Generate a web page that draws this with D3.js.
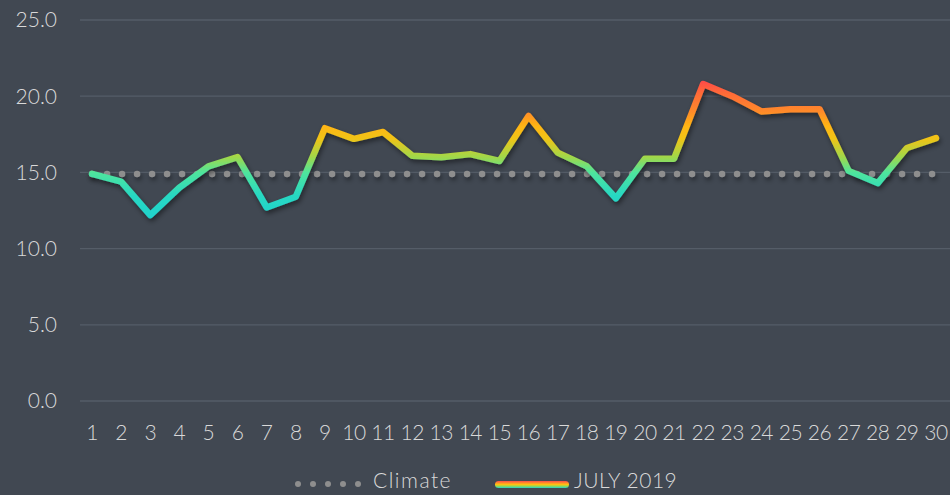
<!DOCTYPE html>
<html>
<head>
<meta charset="utf-8">
<script src="https://cdn.jsdelivr.net/npm/d3@7"></script>
<style>
  html, body { margin: 0; padding: 0; background: #414852; }
  svg { display: block; font-family: "Century Gothic", Lato, "DejaVu Sans", sans-serif; font-weight: 300; }
</style>
</head>
<body>
<div id="chart"></div>
<script>
'use strict';

// chart data
var days = d3.range(1, 31).map(String);
var july2019 = [14.9, 14.4, 12.2, 14.0, 15.4, 16.0, 12.7, 13.4, 17.9, 17.2,
                17.65, 16.1, 16.0, 16.2, 15.75, 18.7, 16.3, 15.4, 13.3, 15.9,
                15.9, 20.8, 20.0, 19.0, 19.15, 19.15, 15.1, 14.3, 16.6, 17.25];
var climate = days.map(function() { return 14.9; });
var yTicks = [0, 5, 10, 15, 20, 25];
var seriesNames = ['Climate', 'JULY 2019'];

var width = 950, height = 495;
var margin = {top: 20, right: 0, bottom: 94, left: 77.5};

var svg = d3.select('#chart').append('svg')
  .attr('width', width)
  .attr('height', height);

svg.append('rect').attr('width', width).attr('height', height).attr('fill', '#414852');

var x = d3.scaleBand()
  .domain(days)
  .range([margin.left, width + 0.5]);

var y = d3.scaleLinear()
  .domain([0, 25])
  .range([height - margin.bottom, margin.top]);

var defs = svg.append('defs');

// value-based colour gradient for the line
var grad = defs.append('linearGradient')
  .attr('id', 'tempGrad')
  .attr('gradientUnits', 'userSpaceOnUse')
  .attr('x1', 0).attr('x2', 0)
  .attr('y1', y(12)).attr('y2', y(21));
var stops = [
  [12, '#1fd2cc'],
  [13.5, '#28d8c2'],
  [15, '#4fe59c'],
  [16, '#a0d84a'],
  [17.2, '#f0c418'],
  [18, '#ffb612'],
  [19, '#ff8a2a'],
  [20.2, '#ff6a38'],
  [21, '#ff4a48']
];
stops.forEach(function(s) {
  grad.append('stop')
    .attr('offset', (s[0] - 12) / 9)
    .attr('stop-color', s[1]);
});

// shadow in user space so the flat dotted line keeps a visible region
var shadow = defs.append('filter').attr('id', 'shadow')
  .attr('filterUnits', 'userSpaceOnUse')
  .attr('x', 0).attr('y', 0).attr('width', width).attr('height', height);
shadow.append('feDropShadow')
  .attr('dx', 1.5).attr('dy', 3).attr('stdDeviation', 2.5)
  .attr('flood-color', '#000').attr('flood-opacity', 0.45);

// gridlines
svg.append('g')
  .selectAll('line')
  .data(yTicks)
  .enter()
  .append('line')
  .attr('x1', 80).attr('x2', width)
  .attr('y1', function(d) { return y(d); })
  .attr('y2', function(d) { return y(d); })
  .attr('stroke', '#555d68')
  .attr('stroke-width', 1.3);

// y labels
svg.append('g')
  .selectAll('text')
  .data(yTicks)
  .enter()
  .append('text')
  .attr('x', 57)
  .attr('y', function(d) { return y(d); })
  .attr('dy', '0.35em')
  .attr('text-anchor', 'end')
  .attr('fill', '#d9d9d9')
  .style('font-size', '21px')
  .text(function(d) { return d.toFixed(1); });

// x labels
svg.append('g')
  .selectAll('text')
  .data(days)
  .enter()
  .append('text')
  .attr('x', function(d) { return x(d) + x.bandwidth() / 2; })
  .attr('y', 440)
  .attr('text-anchor', 'middle')
  .attr('fill', '#d9d9d9')
  .style('font-size', '21px')
  .style('letter-spacing', '-0.5px')
  .text(function(d) { return d; });

// climate dotted line
var cx = function(d, i) { return x(days[i]) + x.bandwidth() / 2; };
var climateLine = d3.line()
  .x(cx)
  .y(function(d) { return y(d); });

svg.append('path')
  .datum(climate)
  .attr('d', climateLine)
  .attr('fill', 'none')
  .attr('stroke', '#8e8e8e')
  .attr('stroke-width', 6.5)
  .attr('stroke-linecap', 'round')
  .attr('stroke-dasharray', '0 15')
  .attr('filter', 'url(#shadow)');

// july line
var julyLine = d3.line()
  .x(cx)
  .y(function(d) { return y(d); });

svg.append('path')
  .datum(july2019)
  .attr('d', julyLine)
  .attr('fill', 'none')
  .attr('stroke', 'url(#tempGrad)')
  .attr('stroke-width', 6.5)
  .attr('stroke-linejoin', 'round')
  .attr('stroke-linecap', 'round')
  .attr('filter', 'url(#shadow)');

// legend
var legendY = 481;
var legend = svg.append('g');
legend.selectAll('circle')
  .data(d3.range(5))
  .enter()
  .append('circle')
  .attr('cx', function(d) { return 298 + d * 15; })
  .attr('cy', legendY + 3)
  .attr('r', 3)
  .attr('fill', '#8e8e8e');
legend.append('text')
  .attr('x', 373).attr('y', legendY).attr('dy', '0.35em')
  .attr('fill', '#d9d9d9')
  .style('font-size', '21px')
  .style('letter-spacing', '1.5px')
  .text(seriesNames[0]);

var legGrad = defs.append('linearGradient')
  .attr('id', 'legGrad')
  .attr('x1', 0).attr('x2', 0).attr('y1', 0).attr('y2', 1);
[['#ff4a48', 0], ['#ff8a2a', 0.25], ['#ffc010', 0.5], ['#a0d84a', 0.72], ['#1fd2cc', 1]].forEach(function(s) {
  legGrad.append('stop').attr('offset', s[1]).attr('stop-color', s[0]);
});
legend.append('rect')
  .attr('x', 495).attr('y', legendY)
  .attr('width', 74).attr('height', 7)
  .attr('rx', 3.5)
  .attr('fill', 'url(#legGrad)');
legend.append('text')
  .attr('x', 574).attr('y', legendY).attr('dy', '0.35em')
  .attr('fill', '#d9d9d9')
  .style('font-size', '21px')
  .style('letter-spacing', '0.5px')
  .text(seriesNames[1]);
</script>
</body>
</html>
